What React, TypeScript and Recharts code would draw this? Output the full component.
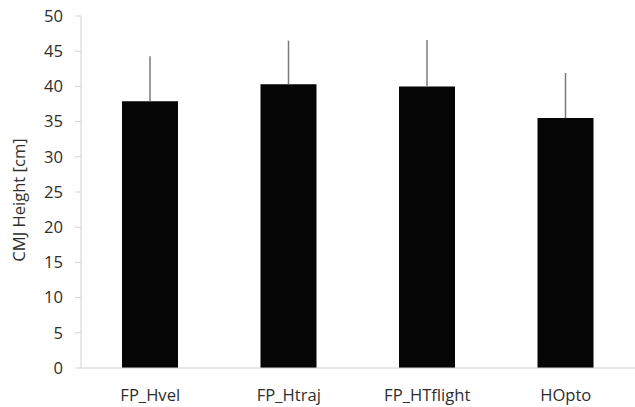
import { Bar, BarChart, ErrorBar, XAxis, YAxis } from 'recharts';

const methods = ['FP_Hvel', 'FP_Htraj', 'FP_HTflight', 'HOpto'];
const meanHeight = [37.9, 40.3, 40.0, 35.5];
const sdHeight = [6.4, 6.2, 6.6, 6.4];
const yTicks = [0, 5, 10, 15, 20, 25, 30, 35, 40, 45, 50];

const data = methods.map((name, i) => ({
  name,
  height: meanHeight[i],
  err: [0, sdHeight[i]],
}));

const font = '"Open Sans", Lato, sans-serif';
const fontSize = 16.6;
const textColor = '#2e2e2e';
const axisColor = '#d0d0d0';

export default function App() {
  return (
    <div style={{ position: 'absolute', left: 0, top: 0, fontFamily: font }}>
      <BarChart
        width={635}
        height={407}
        data={data}
        margin={{ top: 16, right: 0, left: 0, bottom: 0 }}
        barSize={56}
      >
        <XAxis
          dataKey="name"
          height={39}
          tick={{ fontSize, fill: textColor, fontFamily: font }}
          tickLine={false}
          tickSize={0}
          tickMargin={21}
          axisLine={{ stroke: axisColor }}
        />
        <YAxis
          width={81}
          domain={[0, 50]}
          ticks={yTicks}
          interval={0}
          tick={{ fontSize, fill: textColor, fontFamily: font }}
          tickSize={6}
          tickMargin={12}
          tickLine={{ stroke: axisColor }}
          axisLine={{ stroke: axisColor }}
          label={{
            value: 'CMJ Height [cm]',
            content: () => (
              <text
                transform="translate(18,200) rotate(-90)"
                textAnchor="middle"
                dominantBaseline="central"
                fontSize={fontSize}
                fill={textColor}
                fontFamily={font}
              >
                CMJ Height [cm]
              </text>
            ),
          }}
        />
        <Bar dataKey="height" fill="#050505" isAnimationActive={false}>
          <ErrorBar
            dataKey="err"
            direction="y"
            width={0}
            stroke="#7a7a7a"
            strokeWidth={1.5}
            isAnimationActive={false}
          />
        </Bar>
      </BarChart>
    </div>
  );
}
